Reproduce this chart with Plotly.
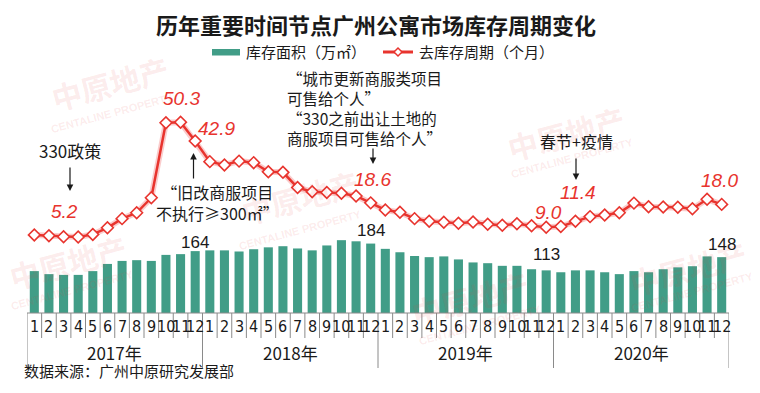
import plotly.graph_objects as go

# ---------------- data ----------------
years = ["2017年", "2018年", "2019年", "2020年"]
month_labels = [str(m) for m in range(1, 13)] * 4

# 库存面积（万㎡）
inventory_area = [
    111, 103, 101, 101, 111, 130, 138, 140, 138, 154, 156, 164,
    166, 166, 163, 169, 174, 177, 171, 166, 179, 193, 190, 184,
    170, 161, 151, 148, 150, 142, 134, 132, 125, 125, 116, 113,
    108, 113, 113, 108, 103, 111, 108, 116, 121, 124, 150, 148,
]
# 去库存周期（个月）
cycle = [
    6.0, 5.7, 5.3, 5.2, 6.2, 8.8, 12.4, 14.7, 20.6, 50.1, 50.3, 42.9,
    34.8, 33.5, 35.0, 34.4, 30.8, 30.6, 24.6, 23.0, 22.7, 22.4, 21.3, 18.6,
    15.8, 14.9, 12.4, 11.4, 11.0, 10.6, 11.1, 10.2, 9.8, 10.4, 9.6, 9.0,
    9.3, 11.4, 13.2, 13.8, 14.7, 18.5, 17.1, 17.0, 16.9, 16.3, 20.0, 18.0,
]
bar_label_idx = [11, 23, 35, 47]
line_label_idx = [3, 10, 11, 23, 35, 37, 47]

# ---------------- layout geometry ----------------
W, H = 760, 393
L, R, T, B = 27, 729, 60, 313
PW, PH = R - L, B - T


def px(x):
    return (x - L) / PW


def py(y):
    return (B - y) / PH


GREEN = "#419d87"
RED = "#e8342e"
GRAY = "#8a8a8a"
INK = "#1a1a1a"
CJK = "Noto Sans CJK SC, Noto Sans, sans-serif"
NUM = "Liberation Sans, Arial, sans-serif"
NARROW = "Liberation Sans Narrow, DejaVu Sans Condensed, Liberation Sans, sans-serif"

x_idx = list(range(len(inventory_area)))

fig = go.Figure()
fig.add_trace(go.Bar(
    x=x_idx, y=inventory_area, name="库存面积（万㎡）",
    marker=dict(color=GREEN, line=dict(width=0)), width=0.62,
    yaxis="y", showlegend=False,
))
fig.add_trace(go.Scatter(
    x=x_idx, y=cycle, mode="lines", line=dict(color="rgba(240,110,110,0.35)", width=6),
    yaxis="y2", showlegend=False, hoverinfo="skip",
))
fig.add_trace(go.Scatter(
    x=x_idx, y=cycle, name="去库存周期（个月）", mode="lines+markers",
    line=dict(color=RED, width=2.5),
    marker=dict(symbol="diamond", size=9, color="white", line=dict(color=RED, width=1.6)),
    yaxis="y2", showlegend=False,
))

ann = []
shapes = []


def note(x, y, text, font, xanchor="center", align="center", **kw):
    ann.append(dict(x=px(x), y=py(y), xref="paper", yref="paper", text=text, showarrow=False,
                    xanchor=xanchor, yanchor="middle", align=align, font=font, **kw))


# watermarks (faint)
wm_color = "rgba(225,70,70,0.11)"
for (cx, cy, cx2, cy2) in [(110, 83, 112, 113), (300, 197, 300, 230), (566, 133, 572, 158),
                           (688, 268, 692, 292), (68, 262, 72, 290), (470, 298, 480, 325)]:
    note(cx, cy, "<b>中原地产</b>", dict(family=CJK, size=30, color=wm_color), textangle=-15)
    note(cx2, cy2, "<b>CENTALINE PROPERTY</b>", dict(family=NUM, size=11, color=wm_color), textangle=-15)

# title
note(376, 24, "<b>历年重要时间节点广州公寓市场库存周期变化</b>", dict(family=CJK, size=22, color=INK))

# legend (manual)
shapes.append(dict(type="rect", xref="paper", yref="paper", x0=px(212), x1=px(240),
                   y0=py(55.5), y1=py(49), fillcolor=GREEN, line=dict(width=0)))
note(244, 52, "库存面积（万㎡）", dict(family=CJK, size=15, color=INK), xanchor="left")
shapes.append(dict(type="line", xref="paper", yref="paper", x0=px(383), x1=px(413),
                   y0=py(52), y1=py(52), line=dict(color=RED, width=3)))
d = 4
shapes.append(dict(type="path", xref="paper", yref="paper",
                   path=f"M {px(398-d)},{py(52)} L {px(398)},{py(52-d)} L {px(398+d)},{py(52)} L {px(398)},{py(52+d)} Z",
                   fillcolor="white", line=dict(color=RED, width=1.5)))
note(417, 52, "去库存周期（个月）", dict(family=CJK, size=15, color=INK), xanchor="left")

# red value labels on the line (offsets in px)
line_offsets = {3: (-14, 25), 10: (1, 24), 11: (21, 13), 23: (2, 23), 35: (2, 15), 37: (3, 29), 47: (-2, 24)}
for i in line_label_idx:
    dx, dy = line_offsets[i]
    ann.append(dict(x=i, y=cycle[i], xref="x", yref="y2", text=f"<i>{cycle[i]:.1f}</i>", showarrow=False,
                    xanchor="center", yanchor="middle",
                    xshift=dx, yshift=dy, font=dict(family=NUM, size=19, color=RED)))

# bar value labels
bar_offsets = {11: 9, 23: 13, 35: 16, 47: 13}
for i in bar_label_idx:
    ann.append(dict(x=i, y=inventory_area[i], xref="x", yref="y", text=f"{inventory_area[i]}",
                    showarrow=False, xanchor="center", yanchor="middle", yshift=bar_offsets[i],
                    font=dict(family=NUM, size=17, color=INK)))

# event notes
txt_font = dict(family=CJK, size=16, color=INK)
note(70, 150, "330政策", dict(family=CJK, size=17, color=INK))
note(217, 202.5, "“旧改商服项目<br>不执行≥300㎡”", txt_font)
note(285, 107.5, "“城市更新商服类项目<br>可售给个人”<br>“330之前出让土地的<br>商服项目可售给个人”",
     dict(family=CJK, size=15.5, color=INK), xanchor="left", align="left")
note(576, 141, "春节+疫情", txt_font)

# arrows: (tip_x, tip_y, tail_x, tail_y)
for tx, ty, sx, sy in [(70, 191, 70, 166), (193.5, 153, 193.5, 180), (373, 164, 373, 147), (576, 180, 576, 157)]:
    ann.append(dict(x=px(tx), y=py(ty), xref="paper", yref="paper", ax=sx - tx, ay=sy - ty,
                    axref="pixel", ayref="pixel", text="", showarrow=True, arrowhead=2,
                    arrowsize=1.1, arrowwidth=1.2, arrowcolor=INK))

# custom category axis: month cells and year cells
for i, m in enumerate(month_labels):
    ann.append(dict(x=i, y=py(326.5), xref="x", yref="paper", text=m, showarrow=False,
                    xanchor="center", yanchor="middle", font=dict(family=NARROW, size=16, color=INK)))
for k, yl in enumerate(years):
    ann.append(dict(x=5.5 + 12 * k, y=py(352.5), xref="x", yref="paper", text=yl, showarrow=False,
                    xanchor="center", yanchor="middle", font=dict(family=CJK, size=17, color=INK)))
for i in range(len(month_labels) + 1):
    bottom = 368 if i % 12 == 0 else 338
    shapes.append(dict(type="line", xref="x", yref="paper", x0=i - 0.5, x1=i - 0.5,
                       y0=py(313), y1=py(bottom), line=dict(color=GRAY, width=1)))
shapes.append(dict(type="line", xref="paper", yref="paper", x0=0, x1=1, y0=0, y1=0,
                   line=dict(color=GRAY, width=1)))

# source
note(22, 370, "数据来源：广州中原研究发展部", dict(family=CJK, size=15, color=INK), xanchor="left")

bar_top = PH * 2.65
zero_px = 250.2
ppu = 2.545
y2_lo = -(B - zero_px) / ppu
y2_hi = (zero_px - T) / ppu

fig.update_layout(
    width=W, height=H, margin=dict(l=L, r=W - R, t=T, b=H - B),
    paper_bgcolor="white", plot_bgcolor="white",
    xaxis=dict(range=[-0.5, len(month_labels) - 0.5], showticklabels=False, showgrid=False,
               zeroline=False, ticks="", showline=False, fixedrange=True),
    yaxis=dict(range=[0, bar_top], visible=False, showgrid=False, fixedrange=True),
    yaxis2=dict(range=[y2_lo, y2_hi], overlaying="y", visible=False, showgrid=False, fixedrange=True),
    annotations=ann, shapes=shapes, bargap=0.38, showlegend=False,
)

fig.write_html("out.html", config={"displayModeBar": False},
               post_script="document.body.style.margin='0';document.body.style.overflow='hidden';")
